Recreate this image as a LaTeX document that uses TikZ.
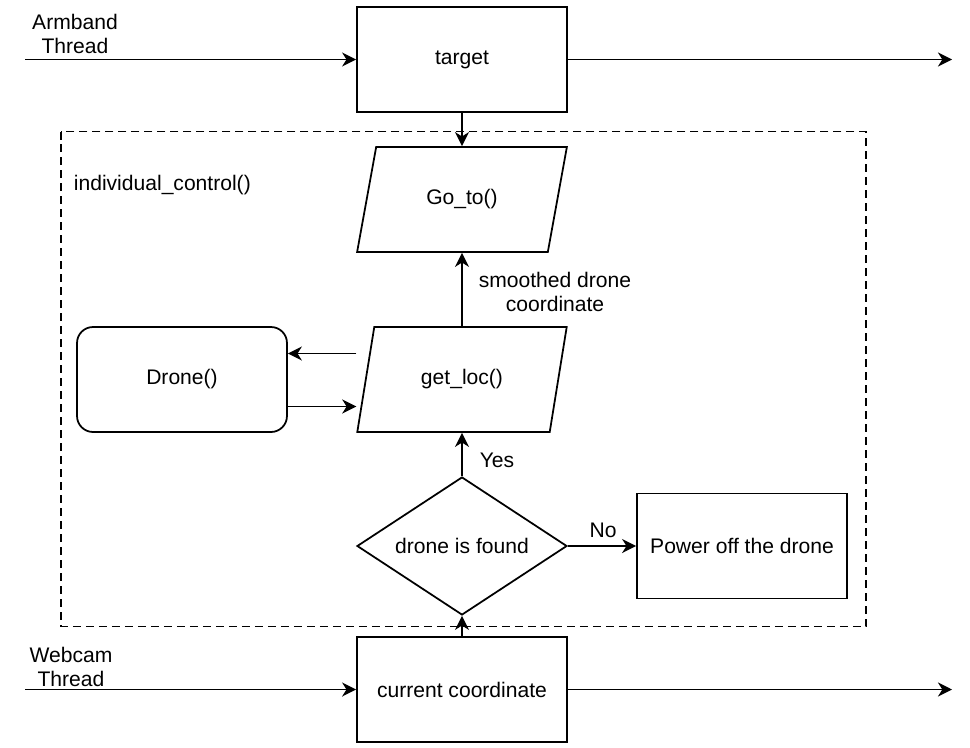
\documentclass[tikz,border=0pt]{standalone}
\usepackage{fontspec}
\setmainfont{Liberation Sans}
\usetikzlibrary{positioning,shapes.geometric,arrows.meta}

\begin{document}
\begin{tikzpicture}[
  x=0.02cm, y=-0.02cm,
  font=\fontsize{12}{14}\selectfont,
  line width=1pt,
  mybox/.style={draw,minimum width=4.2cm,minimum height=2.1cm,inner sep=0},
  myio/.style={draw,trapezium,trapezium left angle=68,trapezium right angle=112,
    trapezium stretches=true,minimum width=4.2cm,minimum height=2.1cm,inner sep=0},
  mydecision/.style={draw,diamond,aspect=1.52,minimum width=4.2cm,minimum height=2.76cm,inner sep=0},
  mylabel/.style={align=center,inner sep=0},
  myarrow/.style={-{Stealth[length=8pt,width=8pt,inset=2.5pt]}}
]
\useasboundingbox (0,0) rectangle (970,747);

% main blocks
\node[mybox] (target) at (462,59.5) {target};
\node[myio] (goto) at (462,199.5) {Go\_to()};
\node[myio] (getloc) at (462,379.5) {get\_loc()};
\node[mybox,rounded corners=0.32cm] (drone) at (182,379.5) {Drone()};
\node[mydecision] (found) at (462,546) {drone is found};
\node[mybox] (poweroff) at (742,546) {Power off the drone};
\node[mybox] (current) at (462,689.5) {current coordinate};

% control group
\draw[dash pattern=on 0.16cm off 0.1cm] (61,131.5) rectangle (866,626.5);

% labels
\node[mylabel] (armband) at (75,34) {Armband\\Thread};
\node[mylabel] (webcam) at (71,667) {Webcam\\Thread};
\node[mylabel,anchor=west] (ctrl) at (73,185) {individual\_control()};
\node[mylabel] (smooth) at (555,292) {smoothed drone\\coordinate};
\node[mylabel] (yes) at (497,460) {Yes};
\node[mylabel] (no) at (603,530) {No};

% free ends
\coordinate (armband-in) at (25,59.5);
\coordinate (target-out) at (952,59.5);
\coordinate (webcam-in) at (25,689.5);
\coordinate (current-out) at (952,689.5);
\coordinate (getloc-w) at (getloc.bottom left corner |- getloc.center);

% connectors
\path (armband-in) edge[myarrow] (target.west);
\path (target.east) edge[myarrow] (target-out);
\path (target.south) edge[myarrow] (target.south |- goto.north);
\path (getloc.center |- getloc.north) edge[myarrow] (getloc.center |- goto.south);
\path ([yshift=0.52cm]getloc-w) edge[myarrow] ([yshift=0.52cm]drone.east);
\path ([yshift=-0.54cm]drone.east) edge[myarrow] ([yshift=-0.54cm]getloc-w);
\path (found.north) edge[myarrow] (getloc.center |- getloc.south);
\path (found.east) edge[myarrow] (poweroff.west);
\path (current.north) edge[myarrow] (found.south);
\path (webcam-in) edge[myarrow] (current.west);
\path (current.east) edge[myarrow] (current-out);
\end{tikzpicture}
\end{document}
